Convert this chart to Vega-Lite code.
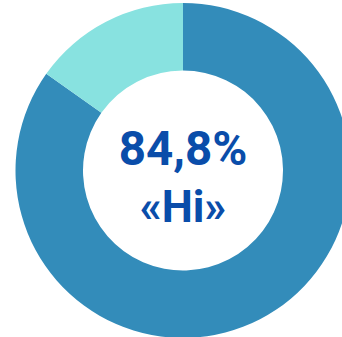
{
  "$schema": "https://vega.github.io/schema/vega-lite/v6.json",
  "width": 366,
  "height": 341,
  "padding": 0,
  "autosize": {"type": "none"},
  "background": "white",
  "view": {"stroke": null},
  "datasets": {
    "slices": [
      {"category": "Hi", "order": 1, "value": 84.8},
      {"category": "Other", "order": 2, "value": 15.2}
    ],
    "labels": [
      {"line": 1, "text": "84,8%"},
      {"line": 2, "text": "«Hi»"}
    ]
  },
  "layer": [
    {
      "data": {"name": "slices"},
      "mark": {"type": "arc", "innerRadius": 100, "outerRadius": 167.5},
      "encoding": {
        "theta": {"field": "value", "type": "quantitative", "stack": true},
        "order": {"field": "order", "type": "quantitative"},
        "color": {
          "field": "category",
          "type": "nominal",
          "scale": {"domain": ["Hi", "Other"], "range": ["#338cba", "#88e2e0"]},
          "legend": null
        }
      }
    },
    {
      "data": {"name": "labels"},
      "transform": [{"filter": "datum.line == 1"}],
      "mark": {"type": "text", "font": "Roboto", "fontWeight": "bold", "fontSize": 47.5, "color": "#0a4daa", "baseline": "alphabetic", "align": "center", "dy": -5.5},
      "encoding": {"text": {"field": "text"}}
    },
    {
      "data": {"name": "labels"},
      "transform": [{"filter": "datum.line == 2"}],
      "mark": {"type": "text", "font": "Roboto", "fontWeight": "bold", "fontSize": 44, "color": "#0a4daa", "baseline": "alphabetic", "align": "center", "dy": 51.8},
      "encoding": {"text": {"field": "text"}}
    }
  ]
}
